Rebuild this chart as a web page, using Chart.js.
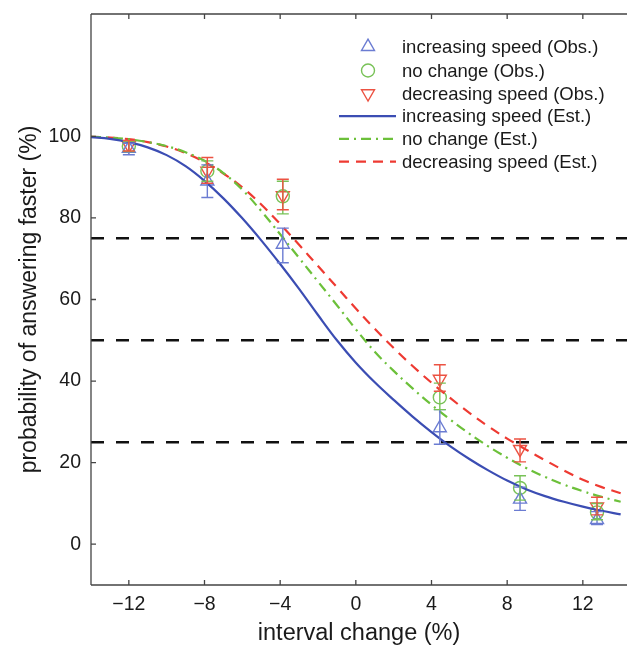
<!DOCTYPE html>
<html><head><meta charset="utf-8">
<script src="https://cdn.jsdelivr.net/npm/chart.js@4.4.1/dist/chart.umd.min.js"></script>
<style>html,body{margin:0;padding:0;background:#fff;overflow:hidden}#wrap{width:636px;height:645px;position:relative}</style>
</head><body><div id="wrap"><canvas id="c"></canvas></div>
<script>
// ---- data ----
const curveX  = [-14,-13,-12,-11,-10,-9,-8,-7,-6,-5,-4,-3,-2,-1,0,1,2,3,4,5,6,7,8,9,10,11,12,13,14];
const estInc  = [99.8,99.4,98.6,97.3,95.4,92.7,89.1,84.8,79.9,74.5,68.7,62.6,56.2,50.0,44.5,39.7,35.4,31.3,27.5,24.0,20.9,18.1,15.6,13.5,11.8,10.4,9.2,8.2,7.3];
const estNo   = [99.9,99.7,99.3,98.6,97.6,96.1,94.0,91.0,86.9,81.7,76.0,70.2,64.4,58.6,52.7,47.2,42.5,38.2,34.2,30.5,27.1,24.0,21.2,18.7,16.5,14.6,13.0,11.6,10.4];
const estDec  = [99.9,99.7,99.3,98.6,97.5,95.9,93.7,90.9,87.5,83.3,78.5,73.4,68.2,63.0,57.8,52.8,48.1,43.7,39.6,35.8,32.2,28.9,25.9,23.2,20.6,18.1,15.8,14.0,12.5];
const obsX     = [-12, -7.85, -3.86, 4.44, 8.68, 12.75];
const obsInc   = [97.0, 89.0, 73.5, 28.5, 11.0, 6.0];
const obsIncLo = [95.5, 85.0, 69.0, 24.5, 8.3, 4.8];
const obsIncHi = [98.3, 93.0, 77.5, 33.0, 14.0, 8.0];
const obsNo    = [97.6, 91.5, 85.3, 36.0, 13.8, 7.8];
const obsNoLo  = [96.3, 89.0, 81.0, 33.0, 10.8, 6.0];
const obsNoHi  = [98.8, 94.0, 89.0, 39.5, 16.8, 10.0];
const obsDec   = [97.8, 91.5, 85.5, 40.5, 23.3, 9.2];
const obsDecLo = [96.4, 88.5, 82.0, 37.5, 20.2, 7.2];
const obsDecHi = [99.0, 94.8, 89.5, 44.0, 25.8, 11.5];
const refLevels = [75, 50, 25];
const xTicks = [-12, -8, -4, 0, 4, 8, 12];
const yTicks = [0, 20, 40, 60, 80, 100];
const legendLabels = ['increasing speed (Obs.)','no change (Obs.)','decreasing speed (Obs.)','increasing speed (Est.)','no change (Est.)','decreasing speed (Est.)'];
const xTitle = 'interval change (%)';
const yTitle = 'probability of answering faster (%)';

// ---- styles ----
const X_MIN = -14, X_MAX = 14.34, Y_MIN = -10, Y_MAX = 130;
const C_INC_M = '#6b7cd2', C_NO_M = '#78c257', C_DEC_M = '#ec5242';
const C_INC_L = '#3b4db3', C_NO_L = '#6cc03a', C_DEC_L = '#ee3a32';
const FONT = '"Liberation Sans", Arial, Helvetica, sans-serif';

const pts = (xs, ys) => xs.map((x, i) => ({x, y: ys[i]}));

const datasets = [];
refLevels.forEach(v => datasets.push({
  type: 'line', data: [{x: X_MIN, y: v}, {x: X_MAX, y: v}],
  borderColor: '#111', borderWidth: 2.6, borderDash: [13, 12], pointRadius: 0, fill: false, order: 10
}));
datasets.push({type:'line', label: legendLabels[3], data: pts(curveX, estInc), borderColor: C_INC_L, borderWidth: 2.2, pointRadius: 0, tension: 0.4, fill:false, legendKind:'line', legendRow:3});
datasets.push({type:'line', label: legendLabels[4], data: pts(curveX, estNo), borderColor: C_NO_L, borderWidth: 2.2, borderDash:[10,5,2,5], pointRadius: 0, tension: 0.4, fill:false, legendKind:'line', legendRow:4});
datasets.push({type:'line', label: legendLabels[5], data: pts(curveX, estDec), borderColor: C_DEC_L, borderWidth: 2.2, borderDash:[10,7], pointRadius: 0, tension: 0.4, fill:false, legendKind:'line', legendRow:5});
datasets.push({type:'scatter', label: legendLabels[0], data: pts(obsX, obsInc), errLo: obsIncLo, errHi: obsIncHi, pointStyle:'triangle', pointRotation:0, pointRadius: 7.5, borderColor: C_INC_M, backgroundColor:'rgba(0,0,0,0)', borderWidth: 1.4, legendKind:'point', legendRow:0});
datasets.push({type:'scatter', label: legendLabels[1], data: pts(obsX, obsNo), errLo: obsNoLo, errHi: obsNoHi, pointStyle:'circle', pointRadius: 6.5, borderColor: C_NO_M, backgroundColor:'rgba(0,0,0,0)', borderWidth: 1.4, legendKind:'point', legendRow:1});
datasets.push({type:'scatter', label: legendLabels[2], data: pts(obsX, obsDec), errLo: obsDecLo, errHi: obsDecHi, pointStyle:'triangle', pointRotation:180, pointRadius: 7.5, borderColor: C_DEC_M, backgroundColor:'rgba(0,0,0,0)', borderWidth: 1.4, legendKind:'point', legendRow:2});

const errorBars = {
  id: 'errorBars',
  afterDatasetsDraw(chart) {
    const {ctx, scales: {x, y}} = chart;
    ctx.save();
    chart.data.datasets.forEach(ds => {
      if (!ds.errLo) return;
      ctx.strokeStyle = ds.borderColor; ctx.lineWidth = 1.4; ctx.setLineDash([]);
      ds.data.forEach((p, i) => {
        const px = x.getPixelForValue(p.x);
        const lo = y.getPixelForValue(ds.errLo[i]), hi = y.getPixelForValue(ds.errHi[i]);
        ctx.beginPath();
        ctx.moveTo(px, lo); ctx.lineTo(px, hi);
        ctx.moveTo(px - 6, lo); ctx.lineTo(px + 6, lo);
        ctx.moveTo(px - 6, hi); ctx.lineTo(px + 6, hi);
        ctx.stroke();
      });
    });
    ctx.restore();
  }
};

const frame = {
  id: 'frame',
  afterDraw(chart) {
    const {ctx, chartArea: a, scales: {x, y}} = chart;
    ctx.save();
    ctx.strokeStyle = '#444'; ctx.lineWidth = 1.3; ctx.setLineDash([]);
    ctx.beginPath();
    ctx.moveTo(a.left, a.top); ctx.lineTo(a.right + 2, a.top);
    ctx.moveTo(a.left, a.top); ctx.lineTo(a.left, a.bottom);
    ctx.moveTo(a.left, a.bottom); ctx.lineTo(a.right + 2, a.bottom);
    xTicks.forEach(v => {
      const px = x.getPixelForValue(v);
      ctx.moveTo(px, a.bottom); ctx.lineTo(px, a.bottom - 5);
      ctx.moveTo(px, a.top); ctx.lineTo(px, a.top + 5);
    });
    yTicks.forEach(v => {
      const py = y.getPixelForValue(v);
      ctx.moveTo(a.left, py); ctx.lineTo(a.left + 5, py);
    });
    ctx.stroke();
    ctx.restore();
  }
};

const legendPlugin = {
  id: 'insideLegend',
  afterDraw(chart) {
    const {ctx} = chart;
    const rowsY = [46.7, 70.5, 93.5, 116.2, 138.8, 161.6];
    const markX = 368, lineX0 = 339, lineX1 = 396, textX = 402;
    ctx.save();
    chart.data.datasets.forEach(ds => {
      if (ds.legendRow === undefined) return;
      const yy = rowsY[ds.legendRow];
      if (ds.legendKind === 'line') {
        ctx.strokeStyle = ds.borderColor; ctx.lineWidth = ds.borderWidth;
        ctx.setLineDash(ds.borderDash || []);
        ctx.beginPath(); ctx.moveTo(lineX0, yy); ctx.lineTo(lineX1, yy); ctx.stroke();
        ctx.setLineDash([]);
      } else {
        ctx.strokeStyle = ds.borderColor; ctx.fillStyle = 'rgba(0,0,0,0)'; ctx.lineWidth = ds.borderWidth;
        Chart.helpers.drawPoint(ctx, {pointStyle: ds.pointStyle, radius: ds.pointRadius, rotation: ds.pointRotation || 0, borderWidth: ds.borderWidth}, markX, yy);
      }
      ctx.fillStyle = '#1a1a1a';
      ctx.font = '18.5px ' + FONT;
      ctx.textAlign = 'left'; ctx.textBaseline = 'middle';
      ctx.fillText(ds.label, textX, yy + 1);
    });
    ctx.restore();
  }
};

const fmt = v => v < 0 ? '\u2212' + Math.abs(v) : String(v);

new Chart(document.getElementById('c'), {
  data: {datasets},
  options: {
    responsive: true, maintainAspectRatio: false, animation: false,
    layout: {padding: {top: 14, left: 0, right: 0, bottom: 0}},
    plugins: {legend: {display: false}, tooltip: {enabled: false}},
    scales: {
      x: {
        type: 'linear', min: X_MIN, max: X_MAX,
        afterBuildTicks: s => { s.ticks = xTicks.map(v => ({value: v})); },
        afterFit: s => { s.height = 60; s.paddingLeft = 0; s.paddingRight = 0; },
        grid: {display: false, drawTicks: false},
        border: {display: false},
        ticks: {callback: v => fmt(v), color: '#1a1a1a', font: {family: FONT, size: 19.5}, padding: 8, maxRotation: 0, autoSkip: false},
        title: {display: true, text: xTitle, color: '#1a1a1a', font: {family: FONT, size: 23.5, lineHeight: 1.0}, padding: {top: 0, bottom: 0}}
      },
      y: {
        type: 'linear', min: Y_MIN, max: Y_MAX,
        afterBuildTicks: s => { s.ticks = yTicks.map(v => ({value: v})); },
        afterFit: s => { s.width = 91; s.paddingTop = 0; s.paddingBottom = 0; },
        grid: {display: false, drawTicks: false},
        border: {display: false},
        ticks: {callback: v => fmt(v), color: '#1a1a1a', font: {family: FONT, size: 19.5}, padding: 10, autoSkip: false},
        title: {display: true, text: yTitle, color: '#1a1a1a', font: {family: FONT, size: 23, lineHeight: 1.2}, padding: {top: 16, bottom: 0}}
      }
    }
  },
  plugins: [errorBars, frame, legendPlugin]
});
</script>
</body></html>
